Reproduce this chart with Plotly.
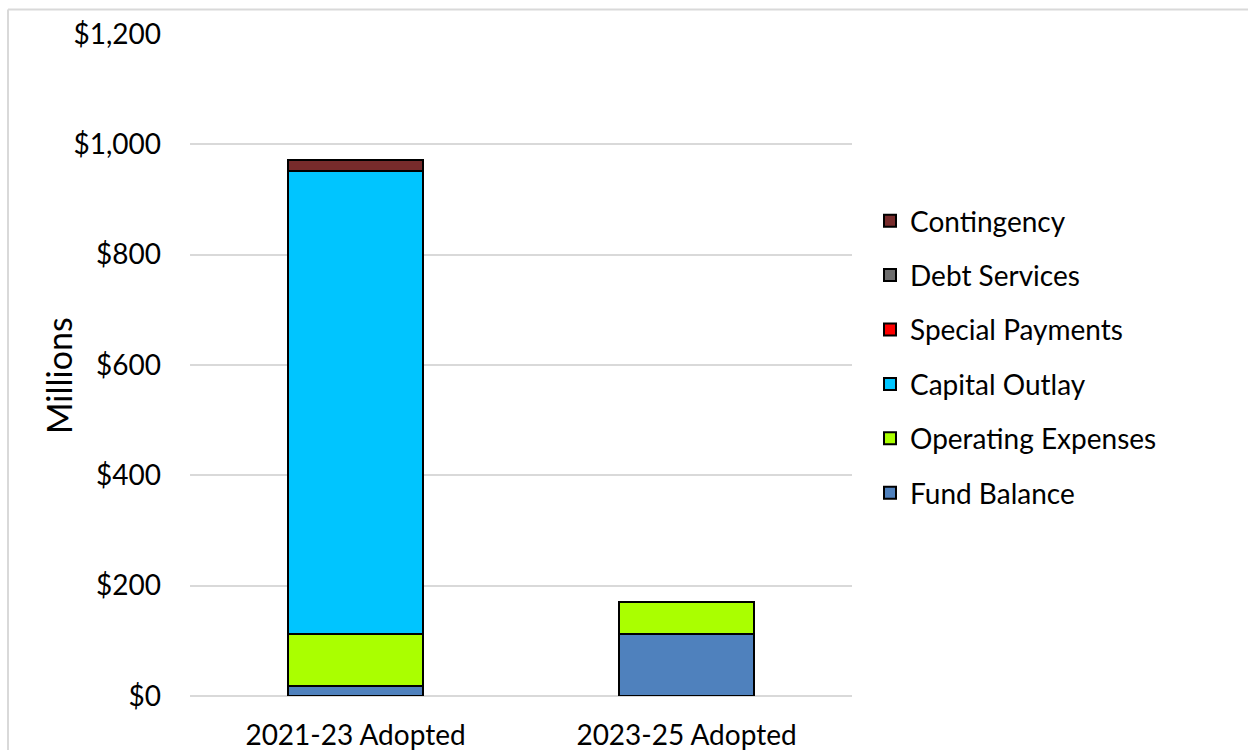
import plotly.graph_objects as go

# Budget categories (columns) and spending by component, in millions of dollars
periods = ["2021-23 Adopted", "2023-25 Adopted"]
fund_balance = [18, 112]
operating_expenses = [94, 58]
capital_outlay = [840, 0]
special_payments = [0, 0]
debt_services = [0, 0]
contingency = [20, 0]

series = [
    ("Fund Balance", fund_balance, "#4f81bd"),
    ("Operating Expenses", operating_expenses, "#aaff00"),
    ("Capital Outlay", capital_outlay, "#00c5ff"),
    ("Special Payments", special_payments, "#ff0000"),
    ("Debt Services", debt_services, "#6d6d6d"),
    ("Contingency", contingency, "#772b2b"),
]

tick_vals = [0, 200, 400, 600, 800, 1000, 1200]
tick_text = ["$0", "$200", "$400", "$600", "$800", "$1,000", "$1,200"]

FONT = "Lato, 'Open Sans', sans-serif"

fig = go.Figure()
for i, (name, vals, color) in enumerate(series):
    fig.add_trace(go.Bar(
        x=periods, y=vals, name=name,
        marker=dict(color=color, line=dict(color="#000000", width=2)),
        legendgroup=name,
        legendrank=len(series) - i,  # top of the stack listed first
    ))

# plot area in pixels: x 190..852, y 34..696
L, R, T, B = 190, 852, 34, 696
W, H = R - L, B - T


def px_x(p):
    return (p - L) / W


def px_y(p):
    return (B - p) / H


fig.update_layout(
    width=1248, height=750,
    margin=dict(l=L, r=1248 - R, t=T, b=750 - B),
    paper_bgcolor="white", plot_bgcolor="white",
    barmode="stack", bargap=0.595,
    font=dict(family=FONT, color="#000000", size=28),
    showlegend=True,
    legend=dict(
        x=px_x(870), y=px_y(196), xanchor="left", yanchor="top",
        traceorder="grouped", tracegroupgap=15,
        font=dict(size=28, family=FONT, color="#000000"),
        bgcolor="rgba(0,0,0,0)",
    ),
    xaxis=dict(
        showgrid=False, showline=False, zeroline=False, ticks="",
        tickfont=dict(size=28), ticklabelstandoff=20, automargin=False,
    ),
    yaxis=dict(
        range=[0, 1200], tickvals=tick_vals, ticktext=tick_text,
        showgrid=True, gridcolor="#d9d9d9", gridwidth=1.5,
        zeroline=True, zerolinecolor="#d9d9d9", zerolinewidth=1.5,
        showline=False, ticks="", tickfont=dict(size=28),
        ticklabelstandoff=28, automargin=False,
    ),
    annotations=[
        # y-axis title
        dict(text="Millions", textangle=-90, showarrow=False,
             xref="paper", yref="paper", x=px_x(58), y=px_y(376),
             xanchor="center", yanchor="middle",
             font=dict(size=34, family=FONT, color="#000000")),
    ],
    shapes=[
        # chart frame: top and left edges
        dict(type="line", xref="paper", yref="paper",
             x0=px_x(8), x1=px_x(1248), y0=px_y(9.5), y1=px_y(9.5),
             line=dict(color="#d9d9d9", width=2)),
        dict(type="line", xref="paper", yref="paper",
             x0=px_x(8), x1=px_x(8), y0=px_y(9.5), y1=px_y(760),
             line=dict(color="#d9d9d9", width=2)),
    ],
)

fig.write_html("out.html")
